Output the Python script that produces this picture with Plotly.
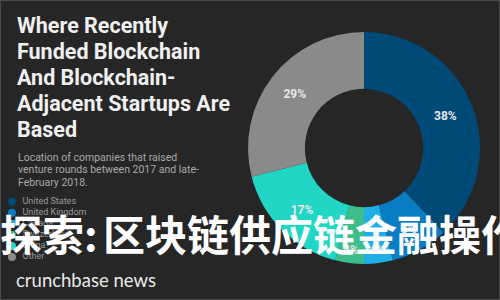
import plotly.graph_objects as go

# Data
countries = ["United States", "United Kingdom", "Canada", "Switzerland", "China", "Other"]
shares = [38, 8, 4, 4, 17, 29]
colors = ["#004a78", "#0a7cc4", "#20aee6", "#3dbd8a", "#22d6c6", "#8a8a8a"]

title_lines = ["Where Recently", "Funded Blockchain", "And Blockchain-",
               "Adjacent Startups Are", "Based"]
subtitle_lines = ["Location of companies that raised",
                  "venture rounds between 2017 and late-",
                  "February 2018."]
overlay_head = "探索:"
overlay_tail = "区块链供应链金融操作"
brand = "crunchbase news"

BG = "#262626"
W, H = 500, 300

fig = go.Figure()

# Donut
cx, cy, r = 364, 148, 116
fig.add_trace(go.Pie(
    labels=countries, values=shares, sort=False, direction="clockwise", rotation=0,
    hole=0.51, marker=dict(colors=colors, line=dict(width=0)),
    textinfo="percent", texttemplate="%{percent:.0%}", textposition="inside",
    insidetextorientation="horizontal",
    textfont=dict(family="Roboto", size=12, color="#e6e6e6", weight="bold"),
    domain=dict(x=[(cx - r) / W, (cx + r) / W], y=[(H - cy - r) / H, (H - cy + r) / H]),
    showlegend=False, hoverinfo="none",
))

# Legend as dots + labels on a hidden axis (index based)
fig.add_trace(go.Scatter(
    x=[12] * len(countries), y=list(range(len(countries))),
    mode="markers+text", text=["  " + c for c in countries], textposition="middle right",
    marker=dict(size=8, color=colors),
    textfont=dict(family="Roboto", size=9, color="#9a9a9a"),
    showlegend=False, hoverinfo="none", cliponaxis=False,
))
top_px, step = 201.7, 11.06
y_top = top_px - step / 2
y_bot = top_px + step * (len(countries) - 0.5)
fig.update_xaxes(range=[0, 250], domain=[0, 0.5], visible=False, fixedrange=True)
fig.update_yaxes(range=[len(countries) - 0.5, -0.5], domain=[(H - y_bot) / H, (H - y_top) / H],
                 visible=False, fixedrange=True)

anns = []
for i, line in enumerate(title_lines):
    anns.append(dict(text=line, x=15 / W, y=1 - (25 + i * 26.2) / H, xref="paper", yref="paper",
                     xanchor="left", yanchor="middle", showarrow=False,
                     font=dict(family="Roboto", size=21.5, color="#f0f0f0", weight="bold")))
for i, line in enumerate(subtitle_lines):
    anns.append(dict(text=line, x=16 / W, y=1 - (157 + i * 12.5) / H, xref="paper", yref="paper",
                     xanchor="left", yanchor="middle", showarrow=False,
                     font=dict(family="Roboto", size=10.5, color="#a8a8a8")))
anns.append(dict(text=brand, x=14 / W, y=1 - 280 / H, xref="paper", yref="paper",
                 xanchor="left", yanchor="middle", showarrow=False,
                 font=dict(family="Lato", size=18.5, color="#e8e8e8")))
anns.append(dict(text="<b>" + overlay_head + "</b>", x=-2 / W, y=1 - 232 / H, xref="paper", yref="paper",
                 xanchor="left", yanchor="middle", showarrow=False,
                 font=dict(family="Noto Sans CJK SC", size=42, color="#ffffff")))
anns.append(dict(text="<b>" + overlay_tail + "</b>", x=101 / W, y=1 - 232 / H, xref="paper", yref="paper",
                 xanchor="left", yanchor="middle", showarrow=False,
                 font=dict(family="Noto Sans CJK SC", size=42, color="#ffffff")))

fig.update_layout(
    width=W, height=H, margin=dict(l=0, r=0, t=0, b=0),
    paper_bgcolor=BG, plot_bgcolor=BG,
    annotations=anns,
    shapes=[dict(type="rect", xref="paper", yref="paper", x0=0, y0=0, x1=1, y1=1,
                 line=dict(color="#4a4a4a", width=2))],
)

fig.write_html("out.html", config={"displayModeBar": False})
